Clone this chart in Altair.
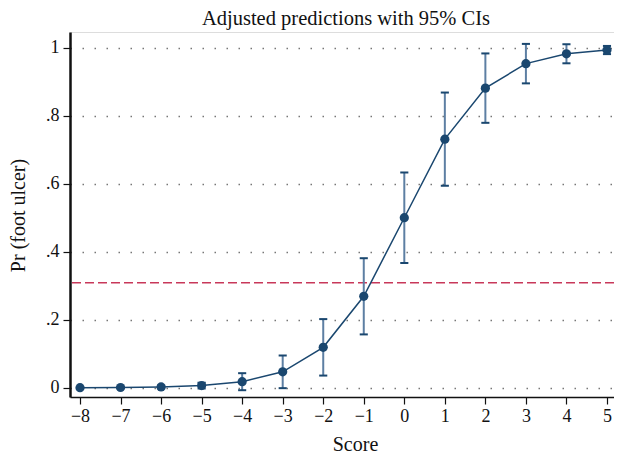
import altair as alt
import pandas as pd

score = [-8, -7, -6, -5, -4, -3, -2, -1, 0, 1, 2, 3, 4, 5]
pr = [0.0003, 0.0009, 0.0025, 0.0067, 0.018, 0.047, 0.119, 0.269, 0.500, 0.731, 0.881, 0.953, 0.982, 0.993]
lo = [-0.0003, -0.0009, -0.002, -0.002, -0.007, -0.001, 0.036, 0.157, 0.367, 0.594, 0.779, 0.895, 0.954, 0.981]
hi = [0.0009, 0.0027, 0.007, 0.015, 0.043, 0.095, 0.202, 0.381, 0.633, 0.868, 0.983, 1.011, 1.010, 1.005]
ref_line = [0.309]

df = pd.DataFrame({"score": score, "pr": pr, "lo": lo, "hi": hi})
ref = pd.DataFrame({"y": ref_line})

NAVY = "#1a476f"
FONT = "Liberation Serif"

xscale = alt.Scale(domain=[-8.247, 5.173], nice=False, zero=False)
yscale = alt.Scale(domain=[-0.027, 1.046], nice=False, zero=False)

xaxis = alt.Axis(
    values=score, title="Score", labelFontSize=18, titleFontSize=20,
    labelFont=FONT, titleFont=FONT, labelColor="#111", titleColor="#111",
    tickSize=7, tickColor="#111", tickWidth=1.2, domainColor="#111", domainWidth=1.6,
    labelPadding=3, grid=False, titleX=285, titleY=53, titleBaseline="alphabetic",
    titleFontWeight="normal", labelFlush=False, labelOverlap=False,
)
yaxis = alt.Axis(
    values=[0, 0.2, 0.4, 0.6, 0.8, 1.0], title="Pr (foot ulcer)",
    labelExpr="datum.value == 0 ? '0' : datum.value == 1 ? '1' : replace(format(datum.value, '.1f'), '0.', '.')",
    labelFontSize=18, titleFontSize=20, labelFont=FONT, titleFont=FONT,
    labelColor="#111", titleColor="#111", tickSize=7, tickColor="#111", tickWidth=1.2,
    domainColor="#111", domainWidth=2.5, labelPadding=4, grid=True,
    gridColor="#777", gridDash=[1.5, 10.5], gridWidth=1.4,
    titleX=-52, titleY=183, titleBaseline="middle", titleAngle=-90,
    titleFontWeight="normal", labelFlush=False,
)

base = alt.Chart(df)

bars = base.mark_rule(color="#5d7fa3", strokeWidth=2).encode(
    x=alt.X("score:Q", scale=xscale, axis=xaxis),
    y=alt.Y("lo:Q", scale=yscale, axis=yaxis),
    y2="hi:Q",
)
caps_hi = base.transform_calculate(xl="datum.score - 0.1", xr="datum.score + 0.1").mark_rule(
    color=NAVY, strokeWidth=2).encode(x=alt.X("xl:Q", scale=xscale), x2="xr:Q", y=alt.Y("hi:Q", scale=yscale))
caps_lo = base.transform_calculate(xl="datum.score - 0.1", xr="datum.score + 0.1").mark_rule(
    color=NAVY, strokeWidth=2).encode(x=alt.X("xl:Q", scale=xscale), x2="xr:Q", y=alt.Y("lo:Q", scale=yscale))
line = base.mark_line(color=NAVY, strokeWidth=1.5).encode(
    x=alt.X("score:Q", scale=xscale), y=alt.Y("pr:Q", scale=yscale))
pts = base.mark_circle(color=NAVY, size=85, opacity=1).encode(
    x=alt.X("score:Q", scale=xscale), y=alt.Y("pr:Q", scale=yscale))
hline = alt.Chart(ref).mark_rule(color="#c8385a", strokeWidth=1.6, strokeDash=[9, 4]).encode(
    y=alt.Y("y:Q", scale=yscale))

chart = alt.layer(hline, bars, caps_hi, caps_lo, line, pts).properties(
    width=544, height=365,
    title=alt.TitleParams("Adjusted predictions with 95% CIs", font=FONT, fontSize=20.5,
                          fontWeight="normal", color="#111", anchor="middle", offset=8, dx=4,
                          dy=21, baseline="alphabetic"),
    autosize=alt.AutoSizeParams(type="none"),
    padding={"left": 62, "top": 24, "right": 0, "bottom": 56},
).configure_view(stroke="#555", strokeWidth=2.2).configure(background="white")

chart.save("out.html", embed_options={"renderer": "svg", "actions": False})
